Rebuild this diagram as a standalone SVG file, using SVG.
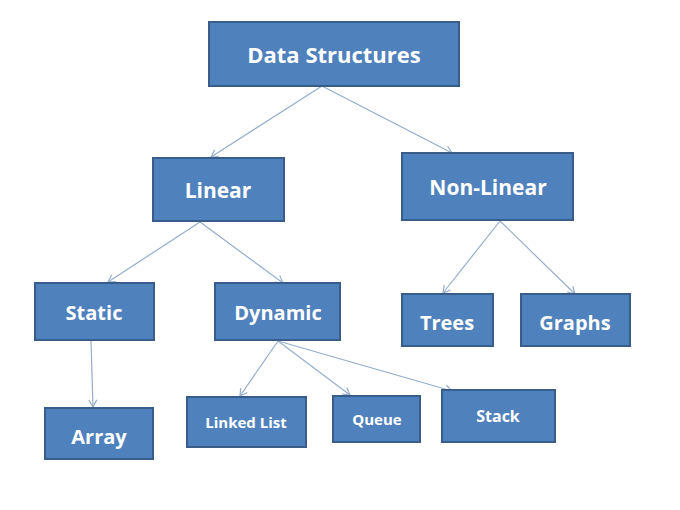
<svg xmlns="http://www.w3.org/2000/svg" width="680" height="510" viewBox="0 0 680 510">
<style>
.n rect{fill:#4F81BD;stroke:#385D8A;stroke-width:2}
.n text{fill:#fff;font-family:"Open Sans","Liberation Sans",sans-serif;font-weight:bold;text-anchor:middle;dominant-baseline:central}
.c line{stroke:#95ADCB;stroke-width:1.2;marker-end:url(#a)}
</style>
<defs>
<marker id="a" markerWidth="10" markerHeight="10" refX="8" refY="5" orient="auto" markerUnits="userSpaceOnUse">
<path d="M1,1 L8,5 L1,9" fill="none" stroke="#95ADCB" stroke-width="1.2"/>
</marker>
</defs>
<rect width="680" height="510" fill="#fff"/>
<g class="c" id="connectors">
<line x1="322" y1="86" x2="211" y2="157"/>
<line x1="322" y1="86" x2="452" y2="153"/>
<line x1="200" y1="222" x2="108" y2="282"/>
<line x1="200" y1="222" x2="283" y2="283"/>
<line x1="500" y1="221" x2="443" y2="293"/>
<line x1="500" y1="221" x2="575" y2="294"/>
<line x1="91" y1="341" x2="93" y2="407"/>
<line x1="278" y1="341" x2="240" y2="396"/>
<line x1="278" y1="341" x2="350" y2="395"/>
<line x1="278" y1="341" x2="452" y2="391"/>
</g>
<g class="n" id="ds"><rect x="209" y="22" width="250" height="64"/><text x="334" y="54" font-size="22">Data Structures</text></g>
<g class="n" id="linear"><rect x="153" y="158" width="131" height="63"/><text x="218" y="190" font-size="21">Linear</text></g>
<g class="n" id="nonlinear"><rect x="402" y="153" width="171" height="67"/><text x="488" y="187" font-size="21">Non-Linear</text></g>
<g class="n" id="static"><rect x="35" y="283" width="119" height="57"/><text x="94" y="312" font-size="20">Static</text></g>
<g class="n" id="dynamic"><rect x="215" y="283" width="125" height="57"/><text x="278" y="312" font-size="20">Dynamic</text></g>
<g class="n" id="trees"><rect x="402" y="294" width="91" height="52"/><text x="447" y="322" font-size="20">Trees</text></g>
<g class="n" id="graphs"><rect x="521" y="294" width="109" height="52"/><text x="575" y="322" font-size="20">Graphs</text></g>
<g class="n" id="array"><rect x="45" y="408" width="108" height="51"/><text x="99" y="436" font-size="20">Array</text></g>
<g class="n" id="linkedlist"><rect x="187" y="397" width="119" height="50"/><text x="246" y="422" font-size="15">Linked List</text></g>
<g class="n" id="queue"><rect x="333" y="396" width="87" height="46"/><text x="377" y="419" font-size="15">Queue</text></g>
<g class="n" id="stack"><rect x="442" y="390" width="113" height="52"/><text x="498" y="416" font-size="16">Stack</text></g>
</svg>
